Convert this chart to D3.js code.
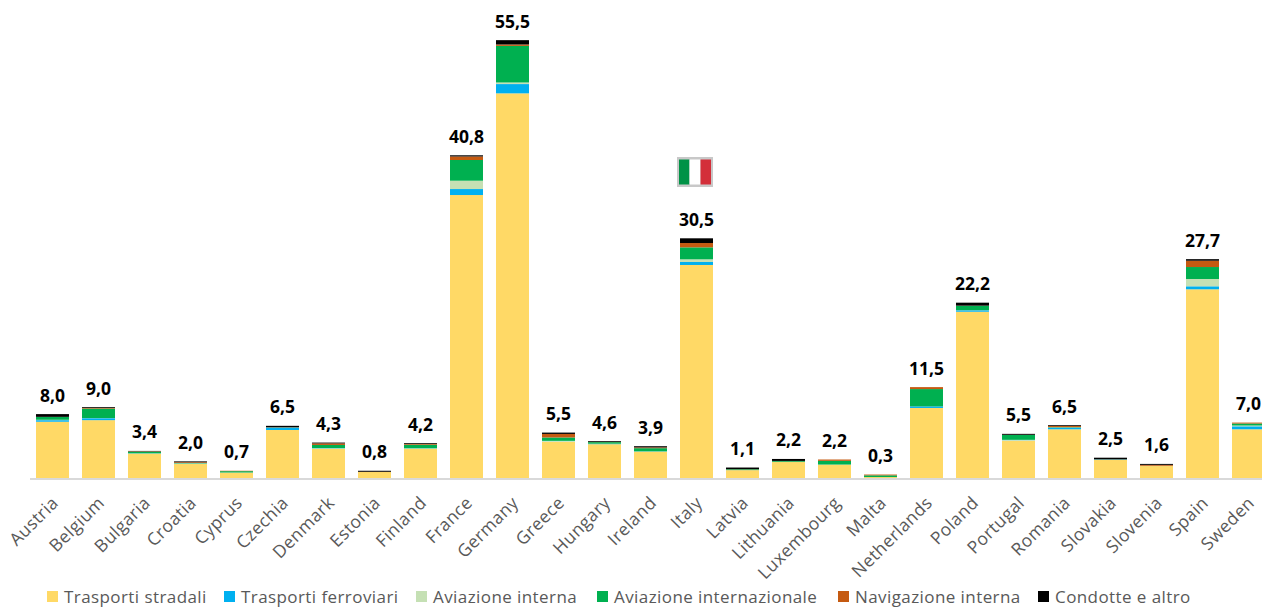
<!DOCTYPE html>
<html lang="it">
<head>
    <meta charset="utf-8">
    <title>Emissioni trasporti</title>
    <style>
        html, body { margin: 0; padding: 0; background: #fff; overflow: hidden; }
        svg { display: block; font-family: 'Open Sans', sans-serif; }
        .tick text { font-family: 'Open Sans', sans-serif; font-size: 17.5px; letter-spacing: 0.4px; fill: #595959; }
        .total { font-size: 17.5px; font-weight: 700; fill: #000; text-anchor: middle; }
        .legend text { font-size: 17px; fill: #595959; letter-spacing: 0.42px; }
    </style>
    <script src="https://d3js.org/d3.v7.min.js" charset="utf-8"></script>
</head>
<body>
<svg id="chart" width="1262" height="607"></svg>
<script type="text/javascript">
const countries = ["Austria", "Belgium", "Bulgaria", "Croatia", "Cyprus", "Czechia", "Denmark", "Estonia", "Finland", "France", "Germany", "Greece", "Hungary", "Ireland", "Italy", "Latvia", "Lithuania", "Luxembourg", "Malta", "Netherlands", "Poland", "Portugal", "Romania", "Slovakia", "Slovenia", "Spain", "Sweden"];
const totals = ["8,0", "9,0", "3,4", "2,0", "0,7", "6,5", "4,3", "0,8", "4,2", "40,8", "55,5", "5,5", "4,6", "3,9", "30,5", "1,1", "2,2", "2,2", "0,3", "11,5", "22,2", "5,5", "6,5", "2,5", "1,6", "27,7", "7,0"];

const seriesNames = ["Trasporti stradali", "Trasporti ferroviari", "Aviazione interna", "Aviazione internazionale", "Navigazione interna", "Condotte e altro"];
const seriesColors = ["#FFD966", "#00B0F0", "#C5E0B4", "#00B050", "#C55A11", "#000000"];

const stradali = [7.15, 7.35, 3.1, 1.8, 0.68, 6.1, 3.7, 0.76, 3.7, 35.96, 48.88, 4.6, 4.3, 3.35, 27.07, 1.0, 2.03, 1.7, 0.12, 8.9, 21.13, 4.74, 6.19, 2.29, 1.52, 23.98, 6.19];
const ferroviari = [0.2, 0.25, 0.03, 0.03, 0.01, 0.3, 0.05, 0, 0.03, 0.76, 1.18, 0.02, 0.05, 0.03, 0.38, 0.01, 0.02, 0.01, 0, 0.2, 0.18, 0.03, 0.2, 0.05, 0.02, 0.38, 0.38];
const aviazioneInterna = [0.05, 0.02, 0.01, 0.03, 0.01, 0.01, 0.05, 0, 0.05, 1.06, 0.2, 0.1, 0.01, 0.01, 0.34, 0, 0, 0, 0, 0, 0.02, 0.08, 0.02, 0, 0, 0.93, 0.1];
const aviazioneIntern = [0.35, 1.2, 0.2, 0.05, 0.17, 0.02, 0.4, 0, 0.45, 2.63, 4.65, 0.43, 0.2, 0.4, 1.52, 0.1, 0.1, 0.47, 0.22, 2.2, 0.55, 0.62, 0.05, 0.02, 0.01, 1.52, 0.25];
const navigazione = [0.02, 0.1, 0.05, 0.1, 0.05, 0.02, 0.2, 0.03, 0.1, 0.45, 0.18, 0.45, 0.03, 0.1, 0.55, 0.02, 0.02, 0.17, 0.1, 0.25, 0.02, 0.02, 0.15, 0.02, 0.12, 0.8, 0.12];
const condotte = [0.35, 0.1, 0.05, 0.1, 0, 0.18, 0.1, 0.13, 0.1, 0.15, 0.55, 0.17, 0.1, 0.15, 0.6, 0.2, 0.25, 0, 0, 0, 0.38, 0.12, 0.1, 0.2, 0.12, 0.2, 0];
const seriesValues = [stradali, ferroviari, aviazioneInterna, aviazioneIntern, navigazione, condotte];

const svg = d3.select("#chart");
const baseY = 478;

const x = d3.scaleBand()
    .domain(countries)
    .range([29.5, 1271.5])
    .paddingInner(0.283)
    .paddingOuter(0.1415);

const y = d3.scaleLinear()
    .domain([0, 55.66])
    .range([baseY, 40]);

// one row per country for d3.stack
const rows = countries.map((c, i) => {
    const row = { country: c };
    seriesNames.forEach((s, j) => { row[s] = seriesValues[j][i]; });
    return row;
});
const stacked = d3.stack().keys(seriesNames)(rows);

svg.selectAll("g.layer")
    .data(stacked)
    .join("g")
    .attr("class", "layer")
    .attr("fill", (d, i) => seriesColors[i])
    .selectAll("rect")
    .data(d => d)
    .join("rect")
    .attr("x", d => x(d.data.country))
    .attr("width", x.bandwidth())
    .attr("y", d => y(d[1]))
    .attr("height", d => y(d[0]) - y(d[1]));

// axis
const axis = svg.append("g")
    .attr("transform", `translate(0,${baseY})`)
    .call(d3.axisBottom(x).tickSize(0).tickPadding(0));
axis.select(".domain").attr("stroke", "#D9D9D9").attr("stroke-width", 2).attr("transform", "translate(0,0.5)");
axis.selectAll(".tick text")
    .attr("text-anchor", "end")
    .attr("dy", 0)
    .attr("y", 0)
    .attr("transform", "translate(7,26) rotate(-45)");

// totals above the bars
const tops = rows.map(r => d3.sum(seriesNames, s => r[s]));
svg.selectAll("text.total")
    .data(countries)
    .join("text")
    .attr("class", "total")
    .attr("x", d => x(d) + x.bandwidth() / 2)
    .attr("y", (d, i) => y(tops[i]) - 12.5)
    .text((d, i) => totals[i]);

// flag over Italy
const flagX = x("Italy") - 3;
const flagY = 157;
const flag = svg.append("g").attr("transform", `translate(${flagX},${flagY})`);
flag.append("rect").attr("width", 36).attr("height", 30).attr("fill", "#C8C8C8");
flag.append("rect").attr("x", 2).attr("y", 2.5).attr("width", 10.5).attr("height", 25).attr("fill", "#009246");
flag.append("rect").attr("x", 12.5).attr("y", 2.5).attr("width", 11).attr("height", 25).attr("fill", "#FFFFFF");
flag.append("rect").attr("x", 23.5).attr("y", 2.5).attr("width", 10.5).attr("height", 25).attr("fill", "#D32F3A");

// legend
const legendX = [47, 224, 416, 597, 838, 1038];
const legend = svg.append("g").attr("class", "legend")
    .selectAll("g")
    .data(seriesNames)
    .join("g")
    .attr("transform", (d, i) => `translate(${legendX[i]},591)`);
legend.append("rect")
    .attr("width", 11).attr("height", 11)
    .attr("fill", (d, i) => seriesColors[i]);
legend.append("text")
    .attr("x", 17).attr("y", 12)
    .text(d => d);
</script>
</body>
</html>
